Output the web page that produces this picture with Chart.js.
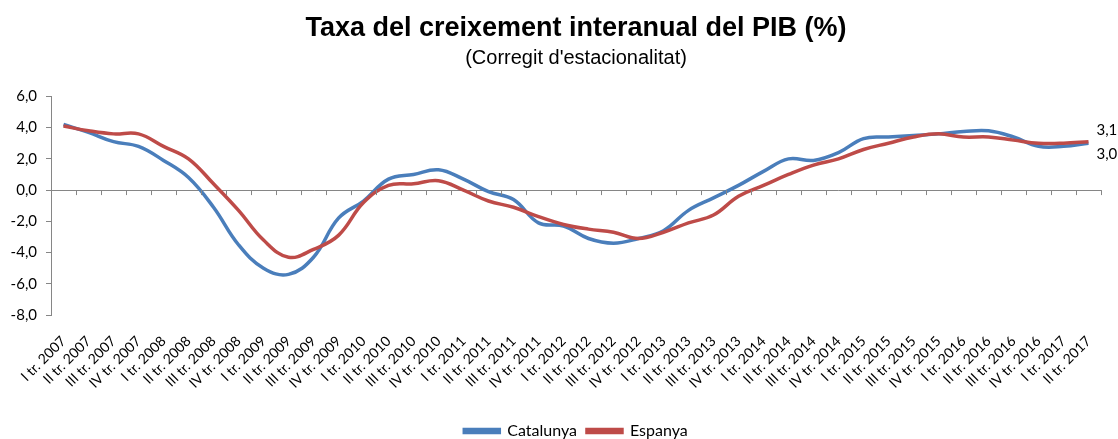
<!DOCTYPE html>
<html>
<head>
<meta charset="utf-8">
<script src="https://cdn.jsdelivr.net/npm/chart.js@4"></script>
<style>
    html, body { margin: 0; padding: 0; background: #fff; }
    #wrap { width: 1118px; height: 439px; }
</style>
</head>
<body>
<div id="wrap"><canvas id="pibChart" width="1118" height="439"></canvas></div>
<script>
const quarters = [
    'I tr. 2007', 'II tr. 2007', 'III tr. 2007', 'IV tr. 2007',
    'I tr. 2008', 'II tr. 2008', 'III tr. 2008', 'IV tr. 2008',
    'I tr. 2009', 'II tr. 2009', 'III tr. 2009', 'IV tr. 2009',
    'I tr. 2010', 'II tr. 2010', 'III tr. 2010', 'IV tr. 2010',
    'I tr. 2011', 'II tr. 2011', 'III tr. 2011', 'IV tr. 2011',
    'I tr. 2012', 'II tr. 2012', 'III tr. 2012', 'IV tr. 2012',
    'I tr. 2013', 'II tr. 2013', 'III tr. 2013', 'IV tr. 2013',
    'I tr. 2014', 'II tr. 2014', 'III tr. 2014', 'IV tr. 2014',
    'I tr. 2015', 'II tr. 2015', 'III tr. 2015', 'IV tr. 2015',
    'I tr. 2016', 'II tr. 2016', 'III tr. 2016', 'IV tr. 2016',
    'I tr. 2017', 'II tr. 2017'
];

const catalunya = [
    4.2, 3.7, 3.1, 2.8, 1.9, 0.8, -1.1, -3.5, -5.0, -5.4, -4.3, -1.8,
    -0.7, 0.7, 1.0, 1.3, 0.7, -0.1, -0.6, -2.1, -2.3, -3.1, -3.4, -3.1,
    -2.6, -1.3, -0.5, 0.3, 1.2, 2.0, 1.9, 2.4, 3.3, 3.4, 3.5, 3.6,
    3.75, 3.8, 3.4, 2.8, 2.8, 3.0
];

const espanya = [
    4.1, 3.8, 3.6, 3.6, 2.8, 2.0, 0.4, -1.3, -3.2, -4.3, -3.8, -2.9,
    -0.8, 0.3, 0.4, 0.6, 0.0, -0.7, -1.1, -1.7, -2.2, -2.5, -2.7, -3.1,
    -2.7, -2.1, -1.6, -0.4, 0.3, 1.0, 1.6, 2.0, 2.6, 3.0, 3.4, 3.6,
    3.4, 3.4, 3.2, 3.0, 3.0, 3.1
];

const yTicks = [-8, -6, -4, -2, 0, 2, 4, 6];

const BLUE = '#4A7EBB';
const RED = '#BE4B48';
const AXIS = '#868686';

const fmt = v => v.toFixed(1).replace('.', ',');

// legend sits lower in the original
const legendNudge = {
    id: 'legendNudge',
    afterLayout(chart) {
        chart.legend.top += 10;
        chart.legend.bottom += 10;
    }
};

// zero line tick marks + last value labels
const extras = {
    id: 'extras',
    afterDatasetsDraw(chart) {
        const { ctx } = chart;
        const x = chart.scales.x;
        const y = chart.scales.y;
        const y0 = y.getPixelForValue(0);
        const step = x.getPixelForValue(1) - x.getPixelForValue(0);
        ctx.save();
        ctx.strokeStyle = AXIS;
        ctx.lineWidth = 1;
        for (let i = 0; i <= quarters.length; i++) {
            const px = Math.round(x.getPixelForValue(i) - step / 2) + 0.5;
            ctx.beginPath();
            ctx.moveTo(px, y0);
            ctx.lineTo(px, y0 + 5);
            ctx.stroke();
        }
        ctx.font = '15px Lato';
        ctx.fillStyle = '#000';
        ctx.textBaseline = 'middle';
        const last = quarters.length - 1;
        const pRed = chart.getDatasetMeta(1).data[last];
        const pBlue = chart.getDatasetMeta(0).data[last];
        ctx.fillText(fmt(espanya[last]), pRed.x + 8, pRed.y - 12);
        ctx.fillText(fmt(catalunya[last]), pBlue.x + 8, pBlue.y + 11);
        ctx.restore();
    }
};

new Chart(document.getElementById('pibChart').getContext('2d'), {
    type: 'line',
    data: {
        labels: quarters,
        datasets: [{
            label: 'Catalunya',
            data: catalunya,
            borderColor: BLUE,
            backgroundColor: BLUE,
            borderWidth: 3.5,
            pointRadius: 0,
            tension: 0.4,
            order: 1
        }, {
            label: 'Espanya',
            data: espanya,
            borderColor: RED,
            backgroundColor: RED,
            borderWidth: 3.5,
            pointRadius: 0,
            tension: 0.4,
            order: 0
        }]
    },
    options: {
        responsive: false,
        animation: false,
        layout: { padding: { left: 0, right: 17, top: 0, bottom: 0 } },
        scales: {
            x: {
                offset: true,
                grid: { display: false },
                border: { display: false },
                ticks: {
                    color: '#000',
                    font: { family: 'Lato', size: 14 },
                    minRotation: 45,
                    maxRotation: 45,
                    autoSkip: false,
                    padding: 10
                },
                afterFit: s => { s.height = 88; }
            },
            y: {
                min: -8,
                max: 6,
                afterBuildTicks: s => { s.ticks = yTicks.map(v => ({ value: v })); },
                grid: {
                    color: c => (c.tick && c.tick.value === 0) ? AXIS : 'rgba(0,0,0,0)',
                    tickColor: AXIS,
                    tickLength: 5
                },
                border: { display: true, color: AXIS },
                ticks: {
                    color: '#000',
                    font: { family: 'Lato', size: 15 },
                    padding: 9,
                    callback: v => fmt(v)
                },
                afterFit: s => { s.width = 51; }
            }
        },
        plugins: {
            title: {
                display: true,
                fullSize: false,
                text: 'Taxa del creixement interanual del PIB (%)',
                color: '#000',
                font: { family: 'Liberation Sans', size: 27, weight: 'bold' },
                padding: { top: 12, bottom: 2 }
            },
            subtitle: {
                display: true,
                fullSize: false,
                text: "(Corregit d'estacionalitat)",
                color: '#000',
                font: { family: 'Liberation Sans', size: 20 },
                padding: { top: 0, bottom: 26 }
            },
            legend: {
                position: 'bottom',
                fullSize: false,
                labels: {
                    color: '#000',
                    font: { family: 'Lato', size: 16 },
                    boxWidth: 35,
                    boxHeight: 3,
                    padding: 10,
                    sort: (a, b) => a.datasetIndex - b.datasetIndex
                }
            },
            tooltip: { enabled: false }
        }
    },
    plugins: [extras, legendNudge]
});
</script>
</body>
</html>
